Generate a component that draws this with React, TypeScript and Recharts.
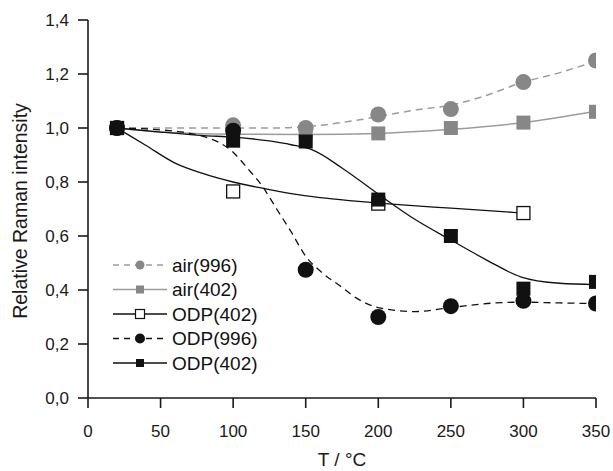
import React from 'react';
import {
    ComposedChart,
    Line,
    Scatter,
    XAxis,
    YAxis,
    Legend,
    Label
} from 'recharts';

// measured temperatures (°C)
const temps = [20, 100, 150, 200, 250, 300, 350];
const openTemps = [20, 100, 200, 300];

// relative Raman intensity
const air996 = [1.0, 1.01, 1.0, 1.05, 1.07, 1.17, 1.25];
const air402 = [1.0, 0.98, 0.985, 0.98, 1.0, 1.02, 1.06];
const odp402Open = [1.0, 0.765, 0.72, 0.685];
const odp996 = [1.0, 0.99, 0.475, 0.3, 0.34, 0.36, 0.35];
const odp402 = [1.0, 0.953, 0.95, 0.735, 0.6, 0.405, 0.43];

// fitted curves
const air996FitT = [20, 50, 100, 130, 160, 190, 225, 250, 270, 300, 325, 350];
const air996Fit = [1.0, 1.0, 1.0, 1.0, 1.01, 1.033, 1.066, 1.085, 1.113, 1.17, 1.205, 1.248];
const air402FitT = [20, 50, 100, 150, 200, 250, 300, 350];
const air402Fit = [1.0, 0.985, 0.977, 0.976, 0.98, 0.995, 1.02, 1.062];
const openFitT = [20, 40, 60, 80, 100, 120, 140, 160, 180, 200, 250, 300];
const openFit = [1.0, 0.935, 0.87, 0.83, 0.8, 0.777, 0.757, 0.742, 0.731, 0.722, 0.703, 0.685];
const odp996FitT = [20, 50, 80, 100, 110, 120, 130, 140, 150, 160, 175, 185, 200, 225, 250, 275, 300, 325, 350];
const odp996Fit = [1.0, 0.993, 0.968, 0.91, 0.85, 0.785, 0.7, 0.615, 0.525, 0.47, 0.41, 0.37, 0.335, 0.32, 0.335, 0.35, 0.355, 0.352, 0.35];
const odp402FitT = [20, 50, 80, 100, 125, 140, 155, 175, 200, 226, 250, 275, 298, 325, 350];
const odp402Fit = [1.0, 0.985, 0.972, 0.966, 0.952, 0.938, 0.918, 0.852, 0.755, 0.659, 0.585, 0.51, 0.449, 0.425, 0.42];

const xTicks = [0, 50, 100, 150, 200, 250, 300, 350];
const yTicks = [0, 0.2, 0.4, 0.6, 0.8, 1.0, 1.2, 1.4];

const legendNames = ['air(996)', 'air(402)', 'ODP(402)', 'ODP(996)', 'ODP(402)'];

const GRAY = '#878787';
const GRAY_LINE = '#9c9c9c';
const BLACK = '#111';
const FONT = '"Liberation Sans", Arial, Helvetica, sans-serif';

const toPoints = (xs: number[], ys: number[]) => xs.map((t, i) => ({ t, v: ys[i] }));

const circle = (fill: string, r: number) => (props: any) =>
    <circle cx={props.cx} cy={props.cy} r={r} fill={fill} />;

const square = (fill: string, size: number, stroke?: string) => (props: any) =>
    <rect
        x={props.cx - size / 2}
        y={props.cy - size / 2}
        width={size}
        height={size}
        fill={fill}
        stroke={stroke || 'none'}
        strokeWidth={stroke ? 1.3 : 0}
    />;

const LegendBox = () => {
    const rowY = (i: number) => 13 + i * 24.5;
    return (
        <svg width={170} height={130} style={{ fontFamily: FONT, overflow: 'visible' }}>
            {legendNames.map((name, i) => {
                const y = rowY(i);
                const dashed = i === 0 || i === 3;
                const color = i < 2 ? GRAY_LINE : BLACK;
                return (
                    <g key={i}>
                        <line x1={0} x2={54} y1={y} y2={y} stroke={color} strokeWidth={1.4}
                            strokeDasharray={dashed ? '6 5' : undefined} />
                        {i === 0 && <circle cx={27} cy={y} r={4.5} fill={GRAY} />}
                        {i === 1 && <rect x={23} y={y - 4} width={8} height={8} fill={GRAY} />}
                        {i === 2 && <rect x={22.5} y={y - 4.5} width={9} height={9} fill="#fff" stroke={BLACK} strokeWidth={1.2} />}
                        {i === 3 && <circle cx={27} cy={y} r={5} fill={BLACK} />}
                        {i === 4 && <rect x={23} y={y - 4} width={8} height={8} fill={BLACK} />}
                        <text x={59} y={y} dominantBaseline="central" fontSize={19} fill="#111">{name}</text>
                    </g>
                );
            })}
        </svg>
    );
};

const fmt = (v: number) => v.toFixed(1).replace('.', ',');

export default function App() {
    return (
        <div style={{ position: 'absolute', left: 0, top: 0, background: '#fff' }}>
            <ComposedChart
                width={613}
                height={471}
                margin={{ top: 20, right: 17, left: 0, bottom: 0 }}
                style={{ fontFamily: FONT }}
            >
                <XAxis
                    type="number"
                    dataKey="t"
                    domain={[0, 350]}
                    ticks={xTicks}
                    height={73}
                    tickSize={10}
                    tickMargin={17}
                    axisLine={{ stroke: '#1a1a1a', strokeWidth: 1.6 }}
                    tickLine={{ stroke: '#1a1a1a', strokeWidth: 1.6 }}
                    tick={{ fill: '#1a1a1a', fontSize: 17 }}
                    allowDataOverflow
                >
                    <Label
                        content={() => (
                            <text x={342} y={466} textAnchor="middle" fontSize={19} fill="#1a1a1a">
                                T / °C
                            </text>
                        )}
                    />
                </XAxis>
                <YAxis
                    type="number"
                    dataKey="v"
                    domain={[0, 1.4]}
                    ticks={yTicks}
                    width={88}
                    tickSize={10}
                    tickMargin={9}
                    tickFormatter={fmt}
                    axisLine={{ stroke: '#1a1a1a', strokeWidth: 1.6 }}
                    tickLine={{ stroke: '#1a1a1a', strokeWidth: 1.6 }}
                    tick={{ fill: '#1a1a1a', fontSize: 17 }}
                    allowDataOverflow
                >
                    <Label
                        content={() => (
                            <text
                                x={20}
                                y={211}
                                transform="rotate(-90 20 211)"
                                textAnchor="middle"
                                dominantBaseline="central"
                                fontSize={19.5}
                                fill="#1a1a1a"
                            >
                                Relative Raman intensity
                            </text>
                        )}
                    />
                </YAxis>
                <Legend
                    layout="horizontal"
                    verticalAlign="middle"
                    align="center"
                    content={() => <LegendBox />}
                    wrapperStyle={{ position: 'absolute', left: 113, top: 252, width: 170, height: 130 }}
                />

                <Line data={toPoints(air996FitT, air996Fit)} dataKey="v" type="monotone" stroke={GRAY_LINE}
                    strokeWidth={1.5} strokeDasharray="7 5" dot={false} activeDot={false} isAnimationActive={false} />
                <Line data={toPoints(air402FitT, air402Fit)} dataKey="v" type="monotone" stroke={GRAY_LINE}
                    strokeWidth={1.5} dot={false} activeDot={false} isAnimationActive={false} />
                <Line data={toPoints(openFitT, openFit)} dataKey="v" type="monotone" stroke={BLACK}
                    strokeWidth={1.3} dot={false} activeDot={false} isAnimationActive={false} />
                <Line data={toPoints(odp996FitT, odp996Fit)} dataKey="v" type="monotone" stroke={BLACK}
                    strokeWidth={1.3} strokeDasharray="7 5" dot={false} activeDot={false} isAnimationActive={false} />
                <Line data={toPoints(odp402FitT, odp402Fit)} dataKey="v" type="monotone" stroke={BLACK}
                    strokeWidth={1.3} dot={false} activeDot={false} isAnimationActive={false} />

                <Scatter data={toPoints(temps, air996)} dataKey="v" shape={circle(GRAY, 8)} isAnimationActive={false} />
                <Scatter data={toPoints(temps, air402)} dataKey="v" shape={square(GRAY, 14)} isAnimationActive={false} />
                <Scatter data={toPoints(openTemps, odp402Open)} dataKey="v" shape={square('#fff', 13, BLACK)} isAnimationActive={false} />
                <Scatter data={toPoints(temps, odp996)} dataKey="v" shape={circle(BLACK, 8)} isAnimationActive={false} />
                <Scatter data={toPoints(temps, odp402)} dataKey="v" shape={square(BLACK, 14)} isAnimationActive={false} />
            </ComposedChart>
        </div>
    );
}
